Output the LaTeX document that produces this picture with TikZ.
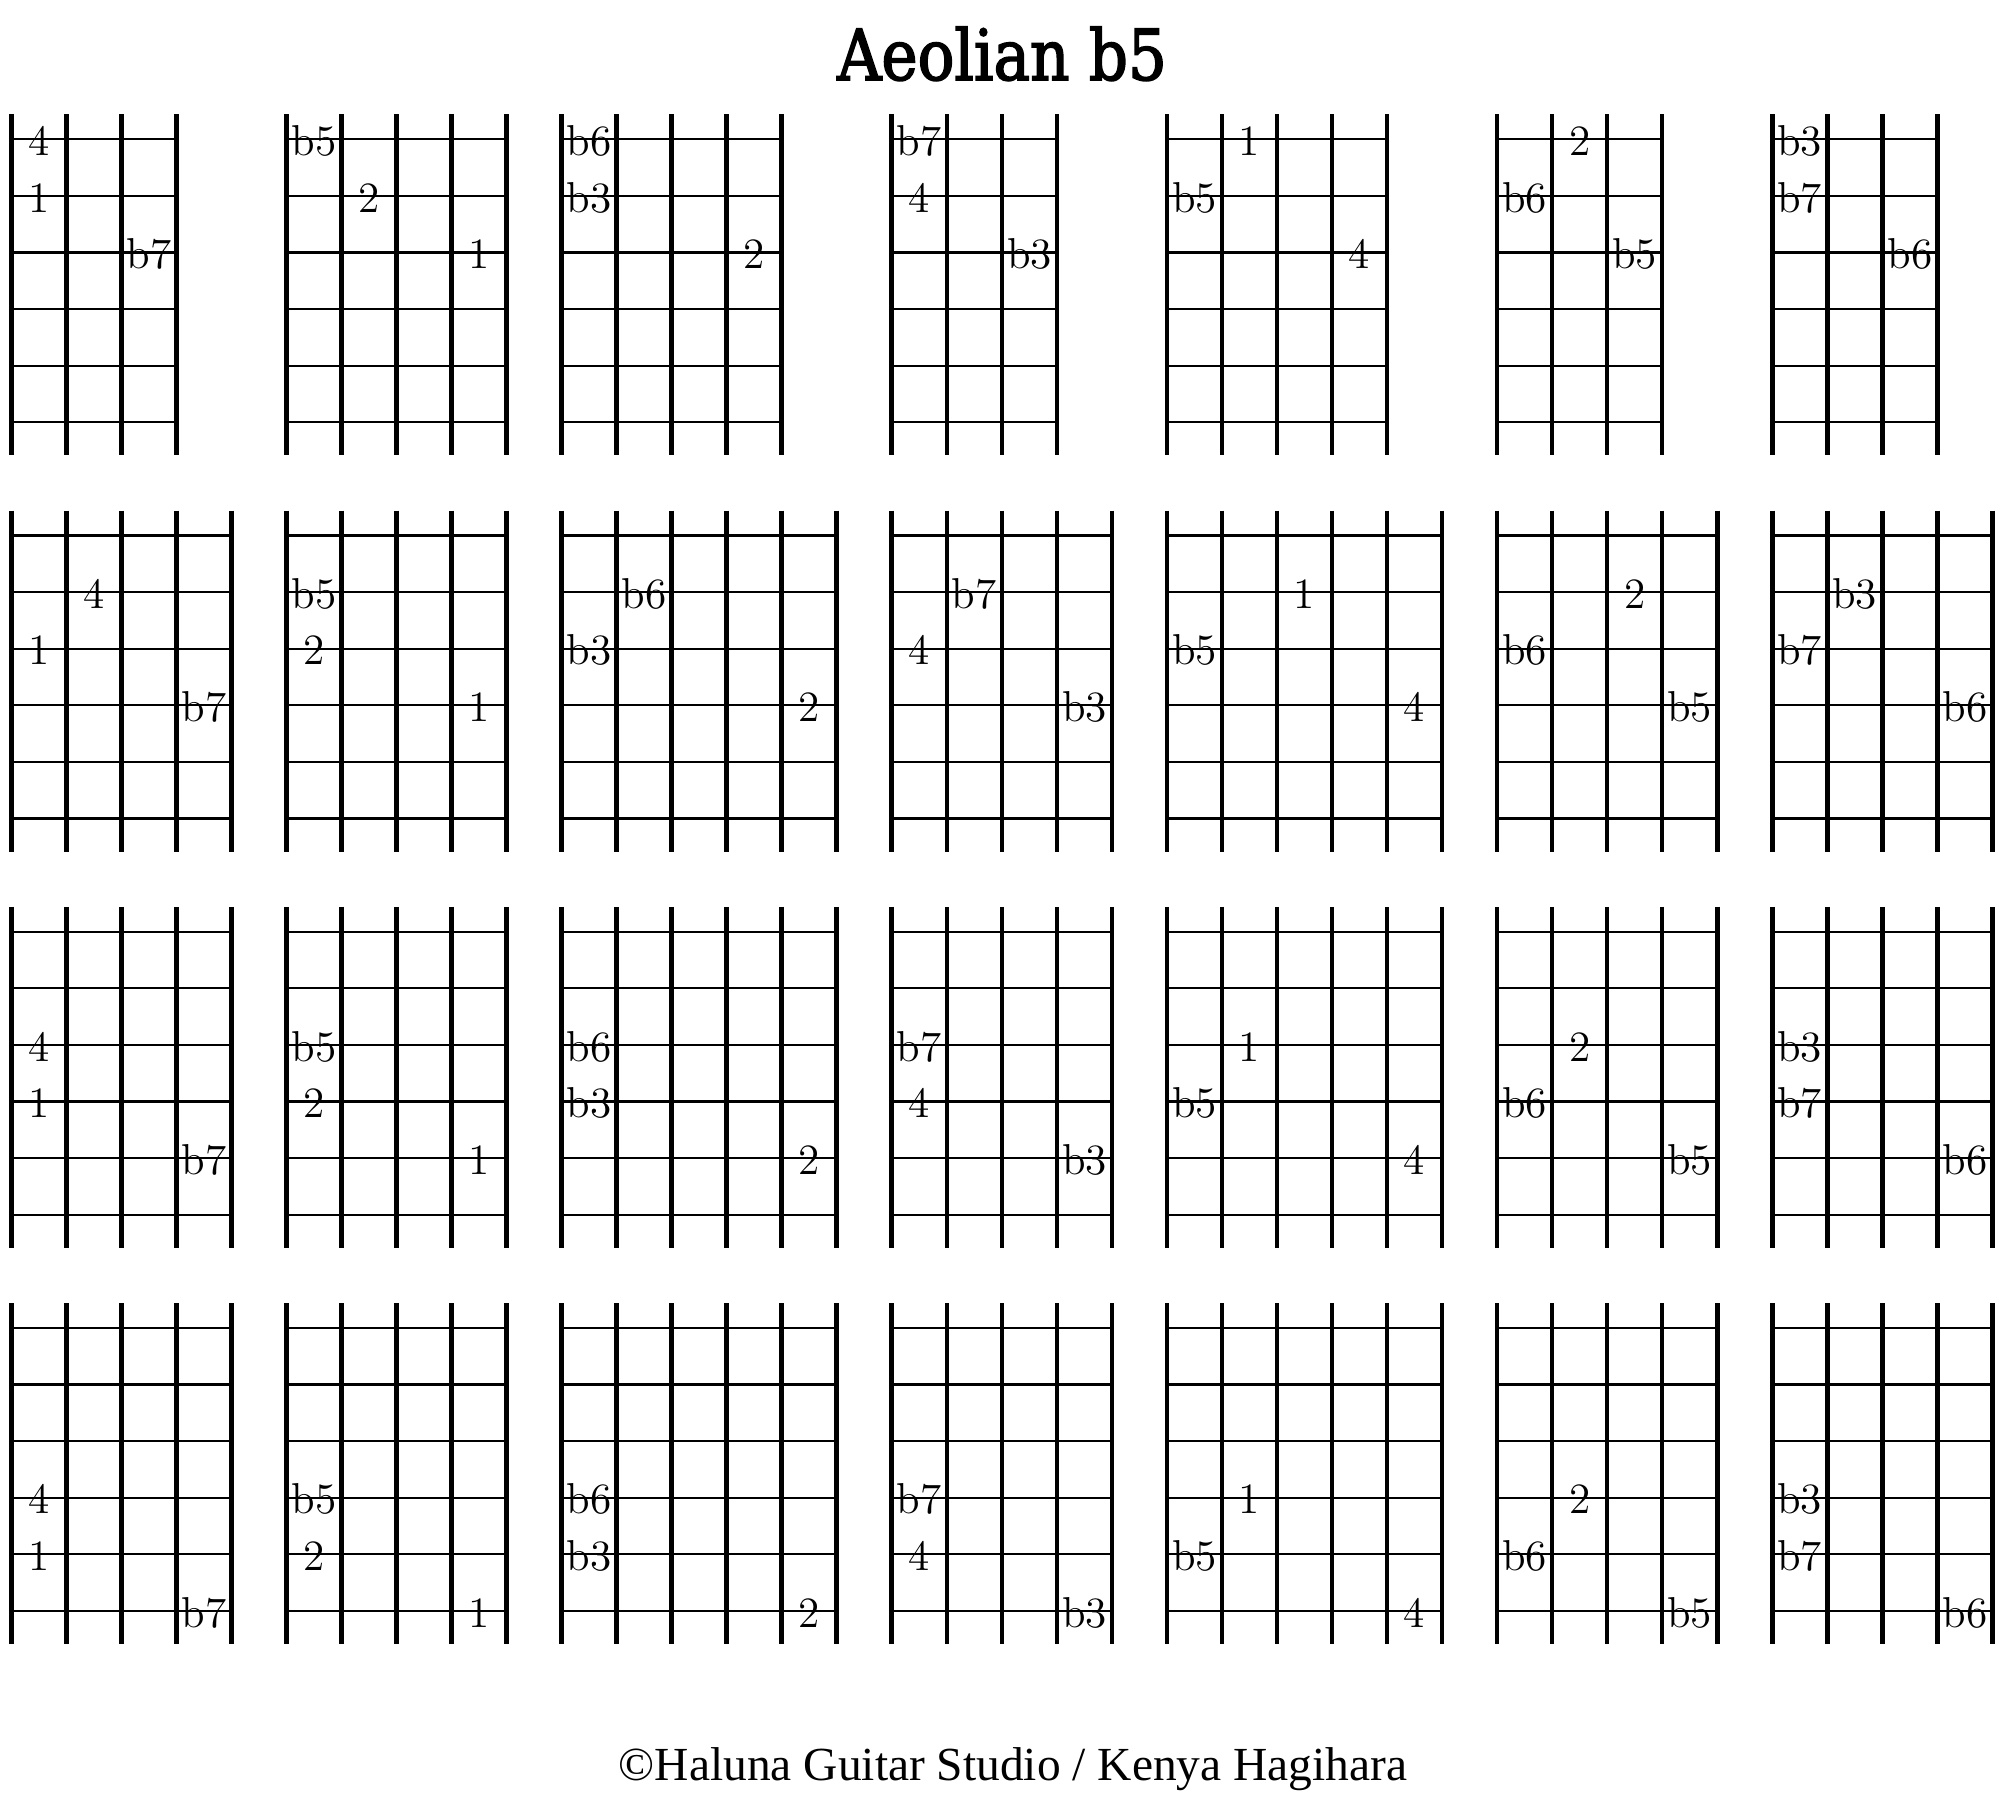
\documentclass[tikz,border=0pt]{standalone}
\usepackage{fontspec}
\newfontfamily\titlefont[FakeStretch=0.87, FakeBold=2.2]{DejaVu Serif}
\newfontfamily\footfont{Liberation Serif}

\tikzset{
	fret/.style={line width=1.3pt},
	gstring/.style={line width=0.6pt},
	note/.style={anchor=base, inner sep=0pt, font=\fontsize{12.3}{13}\selectfont},
}

% #1 name, #2 y of first string, #3 x of first fret, #4 number of frets, #5 cell/string/label
\newcommand{\fingerboard}[5]{
	\pgfmathsetmacro{\xr}{#3+#4-1}
	\foreach \s in {0,...,5}{
		\draw[gstring] (#3,#2+\s) -- (\xr,#2+\s);
	}
	\foreach \f in {1,...,#4}{
		\draw[fret] (#3+\f-1,#2-0.44) -- (#3+\f-1,#2+5.585);
	}
	\foreach \c/\s/\lab [count=\i] in {#5}{
		\node[note] (#1-\i) at (#3+\c+0.5,#2+\s-0.714) {\lab};
	}
}

\begin{document}
\begin{tikzpicture}[x=0.5503cm, y=-0.566cm]
	\useasboundingbox (0,0) rectangle (36.344,31.714);

	\node[anchor=base, inner sep=0pt, font=\titlefont\fontsize{20}{22}\selectfont] (title) at (18.21,1.413) {Aeolian b5};

	% row 1
	\fingerboard{a1}{2.461}{0.205}{4}{0/1/4, 0/2/1, 2/3/b7}
	\fingerboard{a2}{2.461}{5.205}{5}{0/1/b5, 1/2/2, 3/3/1}
	\fingerboard{a3}{2.461}{10.205}{5}{0/1/b6, 0/2/b3, 3/3/2}
	\fingerboard{a4}{2.461}{16.205}{4}{0/1/b7, 0/2/4, 2/3/b3}
	\fingerboard{a5}{2.461}{21.205}{5}{1/1/1, 0/2/b5, 3/3/4}
	\fingerboard{a6}{2.461}{27.205}{4}{1/1/2, 0/2/b6, 2/3/b5}
	\fingerboard{a7}{2.461}{32.205}{4}{0/1/b3, 0/2/b7, 2/3/b6}

	% row 2
	\fingerboard{b1}{9.461}{0.205}{5}{1/2/4, 0/3/1, 3/4/b7}
	\fingerboard{b2}{9.461}{5.205}{5}{0/2/b5, 0/3/2, 3/4/1}
	\fingerboard{b3}{9.461}{10.205}{6}{1/2/b6, 0/3/b3, 4/4/2}
	\fingerboard{b4}{9.461}{16.205}{5}{1/2/b7, 0/3/4, 3/4/b3}
	\fingerboard{b5}{9.461}{21.205}{6}{2/2/1, 0/3/b5, 4/4/4}
	\fingerboard{b6}{9.461}{27.205}{5}{2/2/2, 0/3/b6, 3/4/b5}
	\fingerboard{b7}{9.461}{32.205}{5}{1/2/b3, 0/3/b7, 3/4/b6}

	% row 3
	\fingerboard{c1}{16.461}{0.205}{5}{0/3/4, 0/4/1, 3/5/b7}
	\fingerboard{c2}{16.461}{5.205}{5}{0/3/b5, 0/4/2, 3/5/1}
	\fingerboard{c3}{16.461}{10.205}{6}{0/3/b6, 0/4/b3, 4/5/2}
	\fingerboard{c4}{16.461}{16.205}{5}{0/3/b7, 0/4/4, 3/5/b3}
	\fingerboard{c5}{16.461}{21.205}{6}{1/3/1, 0/4/b5, 4/5/4}
	\fingerboard{c6}{16.461}{27.205}{5}{1/3/2, 0/4/b6, 3/5/b5}
	\fingerboard{c7}{16.461}{32.205}{5}{0/3/b3, 0/4/b7, 3/5/b6}

	% row 4
	\fingerboard{d1}{23.461}{0.205}{5}{0/4/4, 0/5/1, 3/6/b7}
	\fingerboard{d2}{23.461}{5.205}{5}{0/4/b5, 0/5/2, 3/6/1}
	\fingerboard{d3}{23.461}{10.205}{6}{0/4/b6, 0/5/b3, 4/6/2}
	\fingerboard{d4}{23.461}{16.205}{5}{0/4/b7, 0/5/4, 3/6/b3}
	\fingerboard{d5}{23.461}{21.205}{6}{1/4/1, 0/5/b5, 4/6/4}
	\fingerboard{d6}{23.461}{27.205}{5}{1/4/2, 0/5/b6, 3/6/b5}
	\fingerboard{d7}{23.461}{32.205}{5}{0/4/b3, 0/5/b7, 3/6/b6}

	\node[anchor=base, inner sep=0pt, font=\footfont\fontsize{13.5}{15}\selectfont] (credit) at (18.41,31.45) {©Haluna Guitar Studio / Kenya Hagihara};
\end{tikzpicture}
\end{document}
